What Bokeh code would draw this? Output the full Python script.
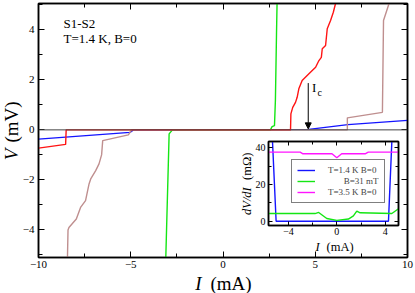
import math
from bokeh.plotting import figure
from bokeh.models import (Range1d, LinearAxis, SingleIntervalTicker, Span, Label,
                          Arrow, NormalHead, Legend, LegendItem, CustomJSTickFormatter)
from bokeh.embed import file_html
from bokeh.resources import INLINE

FONT = "Liberation Serif"

# ---------------- main I-V data (I in mA, V in mV) ----------------
blue_I = [-10.0, -5.04, -4.86, 4.65, 6.77, 10.0]
blue_V = [-0.37, -0.10, 0.0, 0.02, 0.21, 0.38]

green_I = [-3.10, -2.92, -2.74, 2.57, 2.66, 2.79, 2.84, 2.90, 2.93]
green_V = [-5.1, -0.16, 0.0, 0.0, 0.13, 0.17, 1.17, 3.84, 5.05]

brown_I = [-8.43, -8.40, -8.35, -7.95, -7.72, -7.45, -7.26, -7.17, -6.90, -6.72,
           -6.58, -6.52, -5.13, -4.95, 6.74, 6.74, 8.64, 8.70, 9.00]
brown_V = [-5.1, -4.0, -3.9, -3.56, -3.10, -2.83, -2.16, -1.96, -1.63, -1.36,
           -1.00, -0.43, -0.20, 0.0, 0.0, 0.48, 0.70, 4.37, 5.05]

red_I = [-10.0, -8.53, -8.50, 3.66, 3.68, 3.78, 3.93, 4.02, 4.11, 4.29, 4.74,
         5.02, 5.20, 5.33, 5.38, 5.56, 5.65, 5.83, 5.98, 6.10]
red_V = [-0.73, -0.58, 0.0, 0.0, 0.64, 0.90, 1.10, 1.30, 1.64, 1.97, 2.30,
         2.50, 2.77, 2.90, 3.24, 3.37, 4.04, 4.37, 4.70, 5.05]

# ---------------- inset dV/dI data (I in mA, dV/dI in mOhm) ----------------
in_blue_I = [-5.33, -5.02, 4.27, 4.56]
in_blue_R = [45.0, 0.0, 0.0, 45.0]

in_green_I = [-5.65, -1.8, -1.5, -0.83, 0.0, 0.96, 1.37, 1.65, 1.93, 4.55, 5.1]
in_green_R = [4.2, 4.2, 4.8, 1.5, 0.5, 1.2, 2.9, 5.5, 4.6, 4.2, 6.8]

in_mag_I = [-5.65, -3.03, -2.8, -0.4, 0.0, 0.4, 2.34, 2.6, 5.1]
in_mag_R = [37.6, 37.6, 36.7, 36.7, 34.6, 36.7, 36.7, 37.6, 37.6]

legend_labels = ["T=1.4 K B=0", "\u00a0" * 7 + "B=31 mT", "T=3.5 K B=0"]

BLUE = "#1414ff"
RED = "#ff1414"
GREEN = "#14e614"
BROWN = "#bf8f8f"
MAGENTA = "#ff14ff"


def style_axis(ax, ticker, labels, size, tick_in=6, minor_in=4, standoff=4):
    ax.ticker = ticker
    ax.major_tick_in = tick_in
    ax.major_tick_out = 0
    ax.minor_tick_in = minor_in
    ax.minor_tick_out = 0
    ax.axis_line_color = "black"
    ax.axis_line_width = 1.5
    ax.major_tick_line_color = "black"
    ax.minor_tick_line_color = "black"
    ax.major_tick_line_width = 1
    ax.minor_tick_line_width = 1
    ax.major_label_text_font = FONT
    ax.major_label_text_font_size = size
    ax.major_label_text_color = "black"
    ax.major_label_standoff = standoff
    if not labels:
        ax.formatter = CustomJSTickFormatter(code="return ''")
        ax.major_label_standoff = 0


# ================= main figure =================
p = figure(width=415, height=293, x_range=Range1d(-10, 10), y_range=Range1d(-5.1, 5.05),
           output_backend="svg", toolbar_location=None,
           min_border_left=38, min_border_right=8, min_border_top=3, min_border_bottom=36)
p.xgrid.visible = False
p.ygrid.visible = False
p.outline_line_color = "black"
p.outline_line_width = 1.5
p.background_fill_color = "white"

style_axis(p.xaxis[0], SingleIntervalTicker(interval=5, num_minor_ticks=2), True, "11px", standoff=3)
style_axis(p.yaxis[0], SingleIntervalTicker(interval=2, num_minor_ticks=2), True, "11px", standoff=4)
top_ax = LinearAxis()
style_axis(top_ax, SingleIntervalTicker(interval=5, num_minor_ticks=2), False, "10px")
p.add_layout(top_ax, "above")
right_ax = LinearAxis()
style_axis(right_ax, SingleIntervalTicker(interval=2, num_minor_ticks=2), False, "10px")
p.add_layout(right_ax, "right")

p.add_layout(Span(location=0, dimension="width", line_color="#444444", line_width=1))

p.line(blue_I, blue_V, line_color=BLUE, line_width=1.4)
p.line(green_I, green_V, line_color=GREEN, line_width=1.4)
p.line(brown_I, brown_V, line_color=BROWN, line_width=1.4)
p.line(red_I, red_V, line_color=RED, line_width=1.4)

# Ic annotation
p.add_layout(Arrow(end=NormalHead(size=6, fill_color="black", line_color="black", line_width=1),
                   x_start=4.62, y_start=1.87, x_end=4.62, y_end=0.04,
                   line_color="black", line_width=1))
p.add_layout(Label(x=4.83, y=1.70, text="I", text_font=FONT, text_font_size="13px",
                   text_baseline="middle", text_align="left", text_color="black"))
p.add_layout(Label(x=5.12, y=1.50, text="c", text_font=FONT, text_font_size="10px",
                   text_baseline="middle", text_align="left", text_color="black"))

# ================= inset figure =================
q = figure(width=167, height=115, x_range=Range1d(-5.65, 5.1), y_range=Range1d(-2.3, 43.4),
           output_backend="svg", toolbar_location=None,
           min_border_left=32, min_border_right=5, min_border_top=3, min_border_bottom=28)
q.styles = {"position": "absolute", "left": "236px", "top": "138px"}
q.border_fill_alpha = 0
q.background_fill_color = "white"
q.outline_line_color = "black"
q.outline_line_width = 1.5
q.xgrid.visible = False
q.ygrid.visible = False

style_axis(q.xaxis[0], SingleIntervalTicker(interval=4, num_minor_ticks=2), True, "10px",
           tick_in=4, minor_in=3, standoff=2)
style_axis(q.yaxis[0], SingleIntervalTicker(interval=20, num_minor_ticks=2), True, "10px",
           tick_in=4, minor_in=3, standoff=3)
qt = LinearAxis()
style_axis(qt, SingleIntervalTicker(interval=4, num_minor_ticks=2), False, "9px", tick_in=4, minor_in=3)
q.add_layout(qt, "above")
qr = LinearAxis()
style_axis(qr, SingleIntervalTicker(interval=20, num_minor_ticks=2), False, "9px", tick_in=4, minor_in=3)
q.add_layout(qr, "right")

rb = q.line(in_blue_I, in_blue_R, line_color=BLUE, line_width=1.4)
rg = q.line(in_green_I, in_green_R, line_color=GREEN, line_width=1.4)
rm = q.line(in_mag_I, in_mag_R, line_color=MAGENTA, line_width=1.4)

leg = Legend(items=[LegendItem(label=legend_labels[0], renderers=[rb]),
                    LegendItem(label=legend_labels[1], renderers=[rg]),
                    LegendItem(label=legend_labels[2], renderers=[rm])],
             location=(23, 22), label_text_font=FONT, label_text_font_size="9px",
             label_height=10, glyph_height=10, glyph_width=18, spacing=1, padding=5,
             margin=0, label_standoff=13, border_line_color="black", border_line_width=1,
             background_fill_color="white", background_fill_alpha=1)
q.add_layout(leg, "center")

# ================= overlay for titles (page pixel coordinates) =================
o = figure(width=415, height=293, x_range=Range1d(0, 415), y_range=Range1d(293, 0),
           output_backend="svg", toolbar_location=None, min_border=0,
           x_axis_location=None, y_axis_location=None)
o.styles = {"position": "absolute", "left": "0px", "top": "0px"}
o.border_fill_color = None
o.background_fill_color = None
o.outline_line_color = None
o.xgrid.visible = False
o.ygrid.visible = False


def title(x, y, text, size, italic=False, align="left", angle=0.0):
    o.add_layout(Label(x=x, y=y, text=text, text_font=FONT, text_font_size=size,
                       text_font_style="italic" if italic else "normal",
                       text_baseline="middle", text_align=align, angle=angle,
                       text_color="black"))


# sample caption
title(63, 22.7, "S1-S2", "13px")
title(63, 38.3, "T=1.4 K, B=0", "13px")
# main axis titles
title(198, 283, "I", "19px", italic=True, align="center")
title(210, 283, "(mA)", "19px")
title(11, 154, "V", "19px", italic=True, align="center", angle=math.pi / 2)
title(11, 142, "(mV)", "19px", angle=math.pi / 2)
# inset axis titles
title(317, 246, "I", "12.5px", italic=True, align="center")
title(326, 246, "(mA)", "12.5px")
title(246, 214.5, "dV/dI", "12.5px", italic=True, angle=math.pi / 2)
title(246, 179.5, "(m\u03a9)", "12.5px", angle=math.pi / 2)

open("out.html", "w").write(file_html([p, q, o], INLINE))
